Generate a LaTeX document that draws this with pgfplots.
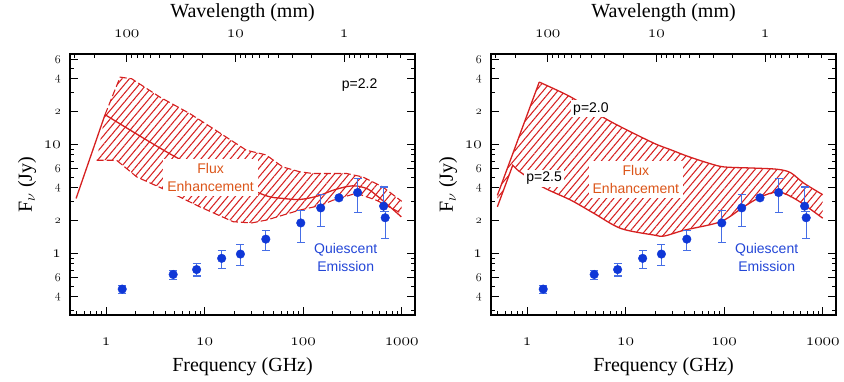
\documentclass[border=0pt]{standalone}
\usepackage{fontspec}
\setmainfont{Liberation Serif}
\newfontfamily\seriff{Liberation Serif}
\newfontfamily\sansf{Liberation Sans}
\usepackage{pgfplots}
\usepackage{pgfplotstable}
\pgfplotsset{compat=1.18}
\usetikzlibrary{patterns.meta}
\definecolor{redc}{RGB}{214,32,32}
\definecolor{bluep}{RGB}{15,55,215}
\definecolor{blueerr}{RGB}{70,110,230}
\definecolor{orangec}{RGB}{220,85,25}
\definecolor{bluet}{RGB}{35,70,215}
\newcommand\osn[1]{{\fontencoding{OML}\fontfamily{lmm}\fontseries{m}\fontshape{it}\selectfont #1}}
\newcommand\sosn[1]{{\fontsize{12}{12}\selectfont\osn{#1}}}

\pgfplotstableread{
nu F ep em
1.46 0.47 0.04 0.04
4.8 0.64 0.06 0.06
8.3 0.71 0.10 0.09
14.9 0.90 0.16 0.17
23.1 0.985 0.215 0.205
41.8 1.35 0.26 0.28
94.6 1.90 0.59 0.64
150.7 2.61 0.88 0.86
231 3.23 0 0
357 3.61 1.25 1.26
655 2.71 1.35 0.3
680 2.12 0.3 0.75
}\datatab

\tikzset{
  myHatch/.style={draw=none, pattern={Lines[angle=50,distance=5.6pt,line width=1.05pt]}, pattern color=redc},
  myLab/.style={font=\sansf\fontsize{14}{18.4}\selectfont, align=center},
}

\begin{document}
\begin{tikzpicture}
% ---------------- left panel ----------------
\begin{axis}[
    xmode=log, ymode=log,
    scale only axis, width=345pt, height=261pt, anchor=south west, at={(70pt,66pt)},
    xmin=0.431, xmax=1364, ymin=0.272, ymax=67.3,
    axis line style={line width=1.1pt},
    tick style={black, line width=0.9pt},
    tick align=inside,
    xtick pos=bottom, ytick pos=both, yticklabel pos=left,
    major tick length=8pt, minor tick length=4.5pt,
    xtick={1,10,100,1000},
    xticklabels={\osn{1},\osn{10},\osn{100},\osn{1000}},
    minor xtick={0.5,0.6,0.7,0.8,0.9,2,3,4,5,6,7,8,9,20,30,40,50,60,70,80,90,200,300,400,500,600,700,800,900},
    ytick={0.4,0.6,1,2,4,6,10,20,40,60},
    yticklabels={\sosn{4},\sosn{6},\osn{1},\sosn{2},\sosn{4},\sosn{6},\osn{10},\sosn{2},\sosn{4},\sosn{6}},
    minor ytick={0.3,0.5,0.7,0.8,0.9,3,5,7,8,9,30,50},
    xticklabel style={font=\fontsize{17}{17}\selectfont, anchor=base, yshift=-30.5pt},
    yticklabel style={font=\fontsize{17}{17}\selectfont, anchor=east, inner sep=0pt, xshift=-9pt},
    xlabel style={font=\seriff\fontsize{20}{20}\selectfont, at={(axis description cs:0.5,-0.2146)}, anchor=base},
    ylabel style={font=\seriff\fontsize{20}{20}\selectfont, at={(axis description cs:-0.1246,0.5)}, anchor=center},
    xlabel={Frequency (GHz)}, ylabel={F$_\nu$ (Jy)},
]
\addplot[myHatch] coordinates {(0.977,18.7) (1.39,41.3) (1.82,39.9) (3.52,27.1) (7.1,19.1) (12.1,14.0) (26.6,8.81) (42,8.0) (62,6.2) (92,5.6) (125,5.4) (275,5.4) (402,5.02) (641,4.07) (1000,3.0) (1000,2.32) (553,3.07) (347,3.56) (201,3.07) (150,2.75) (92,2.49) (42.5,2.02) (30,1.9) (19.5,1.95) (8.96,2.67) (3.8,3.9) (2.05,5.02) (1.28,7.14) (0.805,7.14)} -- cycle;
\addplot[redc, line width=1.1pt, dash pattern=on 7pt off 3pt] coordinates {(0.977,18.7) (1.39,41.3) (1.82,39.9) (3.52,27.1) (7.1,19.1) (12.1,14.0) (26.6,8.81) (42,8.0) (62,6.2) (92,5.6) (125,5.4) (275,5.4) (402,5.02) (641,4.07) (1000,3.0)};
\addplot[redc, line width=1.1pt, dash pattern=on 7pt off 3pt] coordinates {(0.805,7.14) (1.28,7.14) (2.05,5.02) (3.8,3.9) (8.96,2.67) (19.5,1.95) (30,1.9) (42.5,2.02) (92,2.49) (150,2.75) (201,3.07) (347,3.56) (553,3.07) (1000,2.32)};
\addplot[redc, line width=1.3pt] coordinates {(0.497,3.19) (0.977,18.7)};
\addplot[redc, line width=1.3pt, smooth] coordinates {(0.977,18.7) (5.2,7.56) (15,5.02) (40.8,3.41) (60,3.2) (92.4,3.12) (140,3.35) (201,3.79) (280,4.1) (347,4.15) (450,3.9) (553,3.41) (750,2.7) (991,2.16)};
\addplot[only marks, mark=*, mark size=4.3pt, color=bluep,
  error bars/y dir=both, error bars/y explicit,
  error bars/error bar style={blueerr, line width=1.1pt},
  error bars/error mark options={rotate=90, mark size=4pt, blueerr, line width=1.1pt}]
  table[x=nu, y=F, y error plus=ep, y error minus=em] {\datatab};
\node[myLab, fill=white, inner sep=4pt, text=orangec] at (axis cs:11.5,4.94) {Flux\\Enhancement};
\node[myLab, text=bluet] at (axis cs:270,0.915) {Quiescent\\Emission};
\node[myLab, text=black] at (axis cs:374,34.7) {p=2.2};
\end{axis}
\begin{axis}[
    xmode=log, x dir=reverse,
    scale only axis, width=345pt, height=261pt, anchor=south west, at={(70pt,66pt)},
    xmin=0.222, xmax=333, ymin=0, ymax=1,
    axis x line*=top, axis y line=none,
    axis line style={-, line width=1.1pt},
    tick style={black, line width=0.9pt},
    xtick align=inside,
    major tick length=8pt, minor tick length=4.5pt,
    xtick={1,10,100}, xticklabels={\osn{1},\osn{10},\osn{100}},
    minor xtick={0.3,0.4,0.5,0.6,0.7,0.8,0.9,2,3,4,5,6,7,8,9,20,30,40,50,60,70,80,90,200,300},
    xticklabel style={font=\fontsize{17}{17}\selectfont, anchor=base, yshift=16.7pt},
    xlabel style={font=\seriff\fontsize{20}{20}\selectfont, at={(axis description cs:0.5,1.138)}, anchor=base},
    xlabel={Wavelength (mm)},
]
\end{axis}
% ---------------- right panel ----------------
\begin{axis}[
    xmode=log, ymode=log,
    scale only axis, width=345pt, height=261pt, anchor=south west, at={(491pt,66pt)},
    xmin=0.431, xmax=1364, ymin=0.272, ymax=67.3,
    axis line style={line width=1.1pt},
    tick style={black, line width=0.9pt},
    tick align=inside,
    xtick pos=bottom, ytick pos=both, yticklabel pos=left,
    major tick length=8pt, minor tick length=4.5pt,
    xtick={1,10,100,1000},
    xticklabels={\osn{1},\osn{10},\osn{100},\osn{1000}},
    minor xtick={0.5,0.6,0.7,0.8,0.9,2,3,4,5,6,7,8,9,20,30,40,50,60,70,80,90,200,300,400,500,600,700,800,900},
    ytick={0.4,0.6,1,2,4,6,10,20,40,60},
    yticklabels={\sosn{4},\sosn{6},\osn{1},\sosn{2},\sosn{4},\sosn{6},\osn{10},\sosn{2},\sosn{4},\sosn{6}},
    minor ytick={0.3,0.5,0.7,0.8,0.9,3,5,7,8,9,30,50},
    xticklabel style={font=\fontsize{17}{17}\selectfont, anchor=base, yshift=-30.5pt},
    yticklabel style={font=\fontsize{17}{17}\selectfont, anchor=east, inner sep=0pt, xshift=-9pt},
    xlabel style={font=\seriff\fontsize{20}{20}\selectfont, at={(axis description cs:0.5,-0.2146)}, anchor=base},
    ylabel style={font=\seriff\fontsize{20}{20}\selectfont, at={(axis description cs:-0.1246,0.5)}, anchor=center},
    xlabel={Frequency (GHz)}, ylabel={F$_\nu$ (Jy)},
]
\addplot[myHatch] coordinates {(0.5,3.4) (1.33,37.2) (2.79,27.1) (5.85,17.8) (9,14.4) (19.5,10.2) (28.8,8.9) (42,7.8) (70,6.7) (100,6.2) (200,6.05) (346,5.9) (471,5.5) (644,4.4) (1000,3.45) (1000,2.1) (553,3.07) (358,3.66) (236,3.3) (158,2.67) (92,1.95) (39.3,1.63) (24.6,1.44) (19.5,1.47) (8.96,1.69) (4.8,2.32) (2.79,3.07) (1.43,4.07) (0.805,5.78) (0.716,6.42) (0.5,2.67)} -- cycle;
\addplot[redc, line width=1.3pt] coordinates {(0.5,3.4) (1.33,37.2)};
\addplot[redc, line width=1.3pt, smooth] coordinates {(1.33,37.2) (2.79,27.1) (5.85,17.8) (9,14.4) (19.5,10.2) (28.8,8.9) (42,7.8) (70,6.7) (100,6.2) (200,6.05) (346,5.9) (471,5.5) (644,4.4) (1000,3.45)};
\addplot[redc, line width=1.3pt] coordinates {(0.5,2.67) (0.716,6.42) (0.805,5.78)};
\addplot[redc, line width=1.3pt, smooth] coordinates {(0.805,5.78) (1.43,4.07) (2.79,3.07) (4.8,2.32) (8.96,1.69) (19.5,1.47) (24.6,1.44) (39.3,1.63) (92,1.95) (158,2.67) (236,3.3) (358,3.66) (553,3.07) (1000,2.1)};
\addplot[only marks, mark=*, mark size=4.3pt, color=bluep,
  error bars/y dir=both, error bars/y explicit,
  error bars/error bar style={blueerr, line width=1.1pt},
  error bars/error mark options={rotate=90, mark size=4pt, blueerr, line width=1.1pt}]
  table[x=nu, y=F, y error plus=ep, y error minus=em] {\datatab};
\node[myLab, fill=white, inner sep=4pt, text=orangec] at (axis cs:12.7,4.73) {Flux\\Enhancement};
\node[myLab, text=bluet] at (axis cs:270,0.915) {Quiescent\\Emission};
\node[myLab, fill=white, inner sep=2pt, text=black] at (axis cs:4.45,21.2) {p=2.0};
\node[myLab, fill=white, inner sep=2pt, text=black] at (axis cs:1.49,4.89) {p=2.5};
\end{axis}
\begin{axis}[
    xmode=log, x dir=reverse,
    scale only axis, width=345pt, height=261pt, anchor=south west, at={(491pt,66pt)},
    xmin=0.222, xmax=333, ymin=0, ymax=1,
    axis x line*=top, axis y line=none,
    axis line style={-, line width=1.1pt},
    tick style={black, line width=0.9pt},
    xtick align=inside,
    major tick length=8pt, minor tick length=4.5pt,
    xtick={1,10,100}, xticklabels={\osn{1},\osn{10},\osn{100}},
    minor xtick={0.3,0.4,0.5,0.6,0.7,0.8,0.9,2,3,4,5,6,7,8,9,20,30,40,50,60,70,80,90,200,300},
    xticklabel style={font=\fontsize{17}{17}\selectfont, anchor=base, yshift=16.7pt},
    xlabel style={font=\seriff\fontsize{20}{20}\selectfont, at={(axis description cs:0.5,1.138)}, anchor=base},
    xlabel={Wavelength (mm)},
]
\end{axis}
\pgfresetboundingbox
\path[use as bounding box] (0,0) rectangle (844pt,381pt);
\end{tikzpicture}
\end{document}
